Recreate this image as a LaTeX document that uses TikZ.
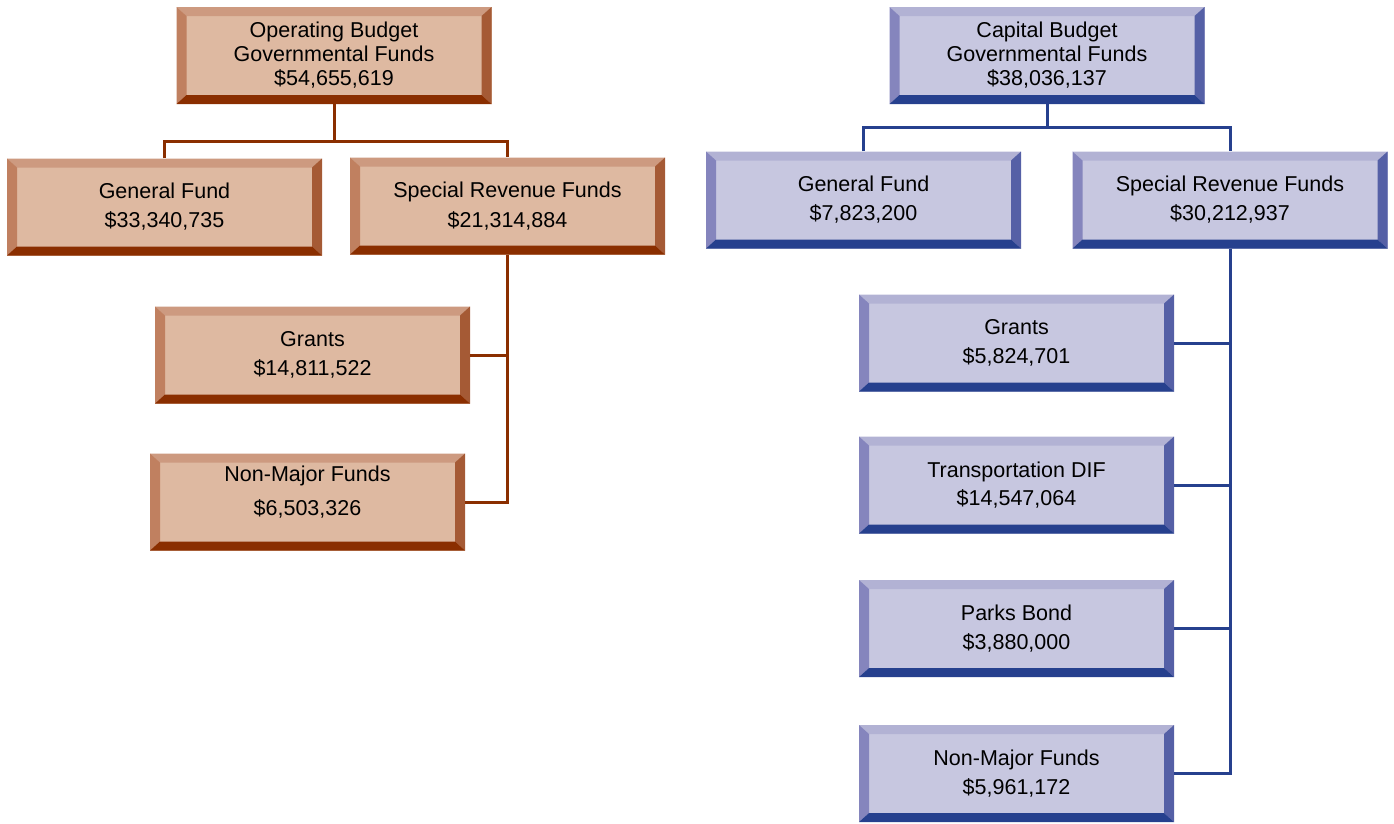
\documentclass[tikz,border=0pt]{standalone}
\usepackage{fontspec}
\setmainfont{Liberation Sans}
\usetikzlibrary{positioning, calc}

\definecolor{opface}{HTML}{DEB9A1}
\definecolor{optop}{HTML}{CD9A80}
\definecolor{opleft}{HTML}{C08060}
\definecolor{opright}{HTML}{A55A35}
\definecolor{opbottom}{HTML}{8A2E00}
\definecolor{opline}{HTML}{8A2E00}
\definecolor{capface}{HTML}{C7C7E0}
\definecolor{captop}{HTML}{B2B2D4}
\definecolor{capleft}{HTML}{8585BD}
\definecolor{capright}{HTML}{5560A6}
\definecolor{capbottom}{HTML}{26408E}
\definecolor{capline}{HTML}{26408E}

\begin{document}
\begin{tikzpicture}[
			x=1pt, y=-1pt,
			font=\fontsize{21.5}{24}\selectfont,
			bevel/.style n args={5}{rectangle, minimum width=315pt, minimum height=97pt, inner sep=0pt, align=center, fill=#1,
				path picture={
					\coordinate (bvnw) at (path picture bounding box.north west);
					\coordinate (bvne) at (path picture bounding box.north east);
					\coordinate (bvse) at (path picture bounding box.south east);
					\coordinate (bvsw) at (path picture bounding box.south west);
					\fill[#2] (bvnw) -- (bvne) -- ($(bvne)+(-10pt,-9pt)$) -- ($(bvnw)+(10pt,-9pt)$) -- cycle;
					\fill[#3] (bvnw) -- ($(bvnw)+(10pt,-9pt)$) -- ($(bvsw)+(10pt,9pt)$) -- (bvsw) -- cycle;
					\fill[#4] (bvne) -- (bvse) -- ($(bvse)+(-10pt,9pt)$) -- ($(bvne)+(-10pt,-9pt)$) -- cycle;
					\fill[#5] (bvsw) -- (bvse) -- ($(bvse)+(-10pt,9pt)$) -- ($(bvsw)+(10pt,9pt)$) -- cycle;
				}},
			opbox/.style={bevel={opface}{optop}{opleft}{opright}{opbottom}},
			capbox/.style={bevel={capface}{captop}{capleft}{capright}{capbottom}},
			oplink/.style={draw=opline, line width=3pt},
			caplink/.style={draw=capline, line width=3pt}
			]
			\useasboundingbox (0,0) rectangle (1394,823);
			
			% --- Budzet operacyjny ---
			\node[opbox] (opbud) at (334,55.5) {Operating Budget\\Governmental Funds\\\$54,655,619};
			\node[opbox] (opgen) at (164.5,207) {General Fund\\[5pt]\$33,340,735};
			\node[opbox] (opspec) at (507.5,206) {Special Revenue Funds\\[6pt]\$21,314,884};
			\node[opbox] (opgrants) at (312.5,355) {Grants\\[5pt]\$14,811,522};
			\node[opbox, text depth=23pt] (opnonmaj) at (307.5,502) {Non-Major Funds\\[10pt]\$6,503,326};
			
			% --- Budzet kapitalowy ---
			\node[capbox] (capbud) at (1047,55.5) {Capital Budget\\Governmental Funds\\\$38,036,137};
			\node[capbox] (capgen) at (863.5,200) {General Fund\\[5pt]\$7,823,200};
			\node[capbox] (capspec) at (1230,200) {Special Revenue Funds\\[5pt]\$30,212,937};
			\node[capbox] (capgrants) at (1016.5,343) {Grants\\[5pt]\$5,824,701};
			\node[capbox] (captrans) at (1016.5,485) {Transportation DIF\\[4pt]\$14,547,064};
			\node[capbox] (capparks) at (1016.5,628.5) {Parks Bond\\[5pt]\$3,880,000};
			\node[capbox] (capnonmaj) at (1016.5,773.5) {Non-Major Funds\\[5pt]\$5,961,172};
			
			% --- Polaczenia (lewa strona) ---
			\draw[oplink] (opbud.south) -- ++(0,37) coordinate (opsplit);
			\draw[oplink] (opgen.north) |- (opsplit) -| (opspec.north);
			\draw[oplink] (opspec.south) |- (opnonmaj.east);
			\draw[oplink] (opgrants.east) -- (opgrants.east -| opspec.south);
			
			% --- Polaczenia (prawa strona) ---
			\draw[caplink] (capbud.south) -- ++(0,23) coordinate (capsplit);
			\draw[caplink] (capgen.north) |- (capsplit) -| (capspec.north);
			\draw[caplink] (capspec.south) |- (capnonmaj.east);
			\draw[caplink] (capgrants.east) -- (capgrants.east -| capspec.south);
			\draw[caplink] (captrans.east) -- (captrans.east -| capspec.south);
			\draw[caplink] (capparks.east) -- (capparks.east -| capspec.south);
			
		\end{tikzpicture}
\end{document}
